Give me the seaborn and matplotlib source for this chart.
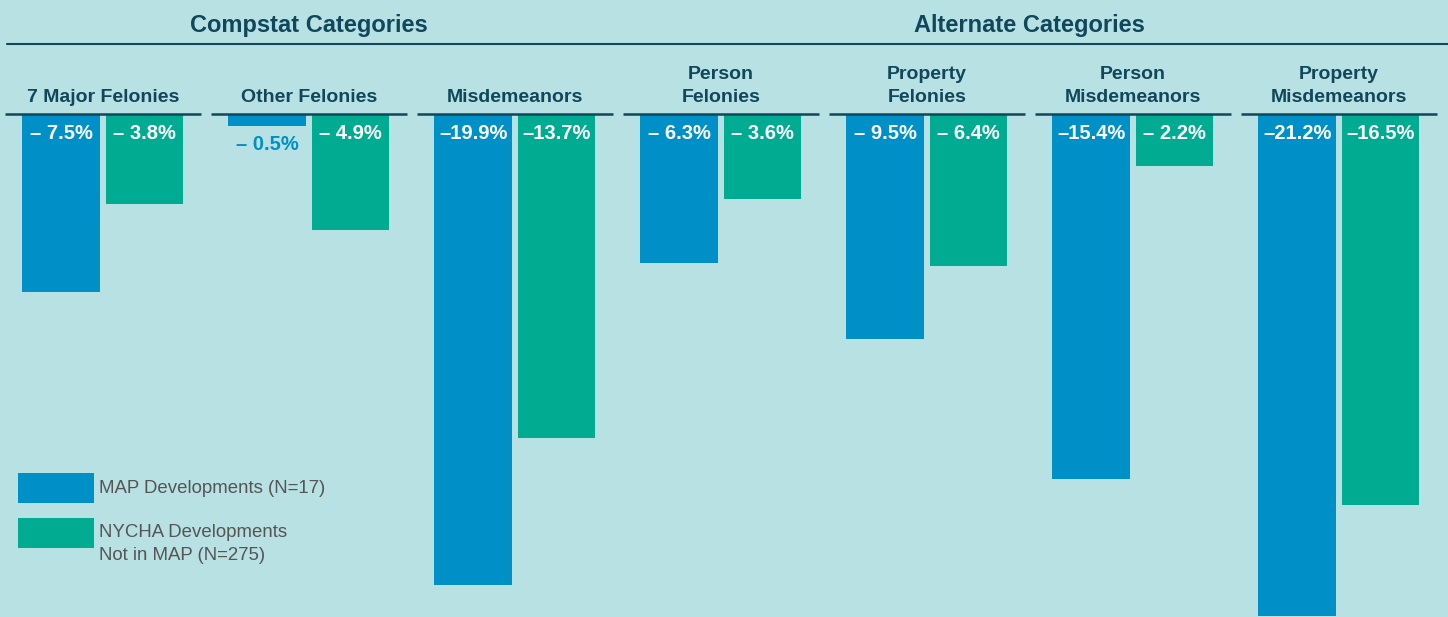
import numpy as np
import pandas as pd
import matplotlib
matplotlib.use("Agg")
import matplotlib.pyplot as plt
from matplotlib.patches import Rectangle
import seaborn as sns

# ---- data ----
categories = ["7 Major Felonies", "Other Felonies", "Misdemeanors",
              "Person\nFelonies", "Property\nFelonies",
              "Person\nMisdemeanors", "Property\nMisdemeanors"]
map_values = [-7.5, -0.5, -19.9, -6.3, -9.5, -15.4, -21.2]
nycha_values = [-3.8, -4.9, -13.7, -3.6, -6.4, -2.2, -16.5]
series_names = ["MAP Developments (N=17)", "NYCHA Developments\nNot in MAP (N=275)"]
group_headers = ["Compstat Categories", "Alternate Categories"]
group_members = [[0, 1, 2], [3, 4, 5, 6]]

BG = "#b8e1e3"
BLUE = "#0090c8"
GREEN = "#00ac91"
DARK = "#10475b"
GRAY = "#555555"

df = pd.DataFrame({
    "category": categories * 2,
    "change": map_values + nycha_values,
    "series": [series_names[0]] * len(categories) + [series_names[1]] * len(categories),
})

sns.set_theme(style="white")
plt.rcParams["font.family"] = ["Liberation Sans", "DejaVu Sans"]

fig = plt.figure(figsize=(14.48, 6.17), dpi=100, facecolor=BG)
ax = fig.add_axes([0, 0, 1, 1])
ax.set_facecolor(BG)

sns.barplot(data=df, x="category", y="change", hue="series",
            palette=[BLUE, GREEN], saturation=1, width=0.81, gap=0.07,
            errorbar=None, legend=False, ax=ax, zorder=2,
            edgecolor="none", linewidth=0)

ax.set_xlim(-0.5, 6.53)
ax.set_ylim(-21.25, 4.82)
ax.set_axis_off()

# category labels and underlines
for i, cat in enumerate(categories):
    ax.text(i, 0.36, cat, ha="center", va="bottom", fontsize=14,
            fontweight="bold", color=DARK, linespacing=1.45)
    ax.plot([i - 0.475, i + 0.475], [0.02, 0.02], color=DARK, lw=1.8,
            solid_capstyle="butt", zorder=3)

# group headers
for header, members in zip(group_headers, group_members):
    ax.text(np.mean(members), 3.76, header, ha="center", va="center",
            fontsize=17, fontweight="bold", color=DARK)
ax.plot([-0.468, 6.53], [2.96, 2.96], color=DARK, lw=1.5, zorder=3)

# value labels
def fmt(v):
    a = abs(v)
    return ("\u2013 " if a < 10 else "\u2013") + f"{a:.1f}%"

for container, vals in zip(ax.containers, [map_values, nycha_values]):
    for bar, v in zip(container, vals):
        x = bar.get_x() + bar.get_width() / 2
        if abs(v) >= 1.5:
            ax.text(x, -0.80, fmt(v), ha="center", va="center", fontsize=14.5,
                    fontweight="bold", color="white", zorder=4)
        else:
            ax.text(x, v - 0.77, fmt(v), ha="center", va="center", fontsize=14.5,
                    fontweight="bold", color=BLUE, zorder=4)

# legend (manual, in axes fraction)
W, H = 1448.0, 617.0
legend_boxes = [(18, 473), (18, 518)]
legend_tops = [480, 524]
for (px, py), top, name, col in zip(legend_boxes, legend_tops, series_names, [BLUE, GREEN]):
    ax.add_patch(Rectangle((px / W, 1 - (py + 30) / H), 76 / W, 30 / H,
                           transform=ax.transAxes, facecolor=col, edgecolor="none",
                           zorder=5))
    ax.text(99 / W, 1 - top / H, name, transform=ax.transAxes, ha="left",
            va="top", fontsize=13.4, color=GRAY, linespacing=1.45, zorder=5)

fig.savefig("out.png", dpi=100, facecolor=BG)
